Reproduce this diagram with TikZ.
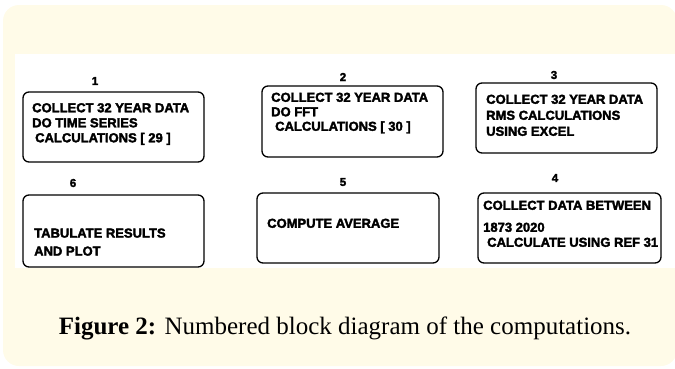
\documentclass[tikz,border=0pt]{standalone}
\usepackage{fontspec}
\setmainfont{Liberation Serif}
\newfontfamily\blockfont{Liberation Sans}
\newcommand{\heavy}{\bfseries\addfontfeature{FakeBold=2.5}}
\definecolor{panelcream}{HTML}{FFFBE8}

\begin{document}
\begin{tikzpicture}[x=1pt,y=-1pt,
  blk/.style={draw=black, line width=1.3pt, rounded corners=6pt, inner sep=0pt},
  blktext/.style={anchor=north west, inner sep=0pt, align=left,
    font=\blockfont\heavy\fontsize{13}{15}\selectfont},
  num/.style={inner sep=0pt, font=\blockfont\heavy\fontsize{11.5}{12}\selectfont}]
  \useasboundingbox (0,0) rectangle (675,368);
  % background panel and white figure area
  \fill[panelcream, rounded corners=16pt] (3,5) rectangle (677,366);
  \fill[white] (15,54) rectangle (675,268);

  % top row
  \node[blk, minimum width=181pt, minimum height=70pt] (b1) at (113.5,127) {};
  \node[blk, minimum width=181pt, minimum height=71pt] (b2) at (352.5,121.5) {};
  \node[blk, minimum width=181pt, minimum height=70pt] (b3) at (566.5,118) {};
  % bottom row
  \node[blk, minimum width=181pt, minimum height=72pt] (b6) at (113.5,231) {};
  \node[blk, minimum width=182pt, minimum height=70pt] (b5) at (348,228) {};
  \node[blk, minimum width=183pt, minimum height=70pt] (b4) at (569.5,228) {};

  \node[num] (n1) at (95,81) {1};
  \node[num] (n2) at (343,77) {2};
  \node[num] (n3) at (554,75) {3};
  \node[num] (n6) at (73,183) {6};
  \node[num] (n5) at (343,182) {5};
  \node[num] (n4) at (555,178) {4};

  \node[blktext] (t1) at (32,103)
    {COLLECT 32 YEAR DATA\\ DO TIME SERIES\\ \hspace*{3pt}CALCULATIONS [ 29 ]};
  \node[blktext, font=\blockfont\heavy\fontsize{13}{14.5}\selectfont] (t2) at (271,92.5)
    {COLLECT 32 YEAR DATA\\ DO FFT\\ \hspace*{4pt}CALCULATIONS [ 30 ]};
  \node[blktext, font=\blockfont\heavy\fontsize{13}{16}\selectfont] (t3) at (486,94.5)
    {COLLECT 32 YEAR DATA\\ RMS CALCULATIONS\\ USING EXCEL};
  \node[blktext, font=\blockfont\heavy\fontsize{13}{18}\selectfont] (t6) at (34,228.3)
    {TABULATE RESULTS\\ AND PLOT};
  \node[blktext] (t5) at (267,218.5) {COMPUTE AVERAGE};
  \node[blktext] (t4) at (483,200.5)
    {COLLECT DATA BETWEEN\\[7pt] 1873 2020\\ \hspace*{4pt}CALCULATE USING REF 31};

  \node[font=\fontsize{25}{28}\selectfont] (cap) at (345,328)
    {\textbf{Figure 2:} Numbered block diagram of the computations.};
\end{tikzpicture}
\end{document}
